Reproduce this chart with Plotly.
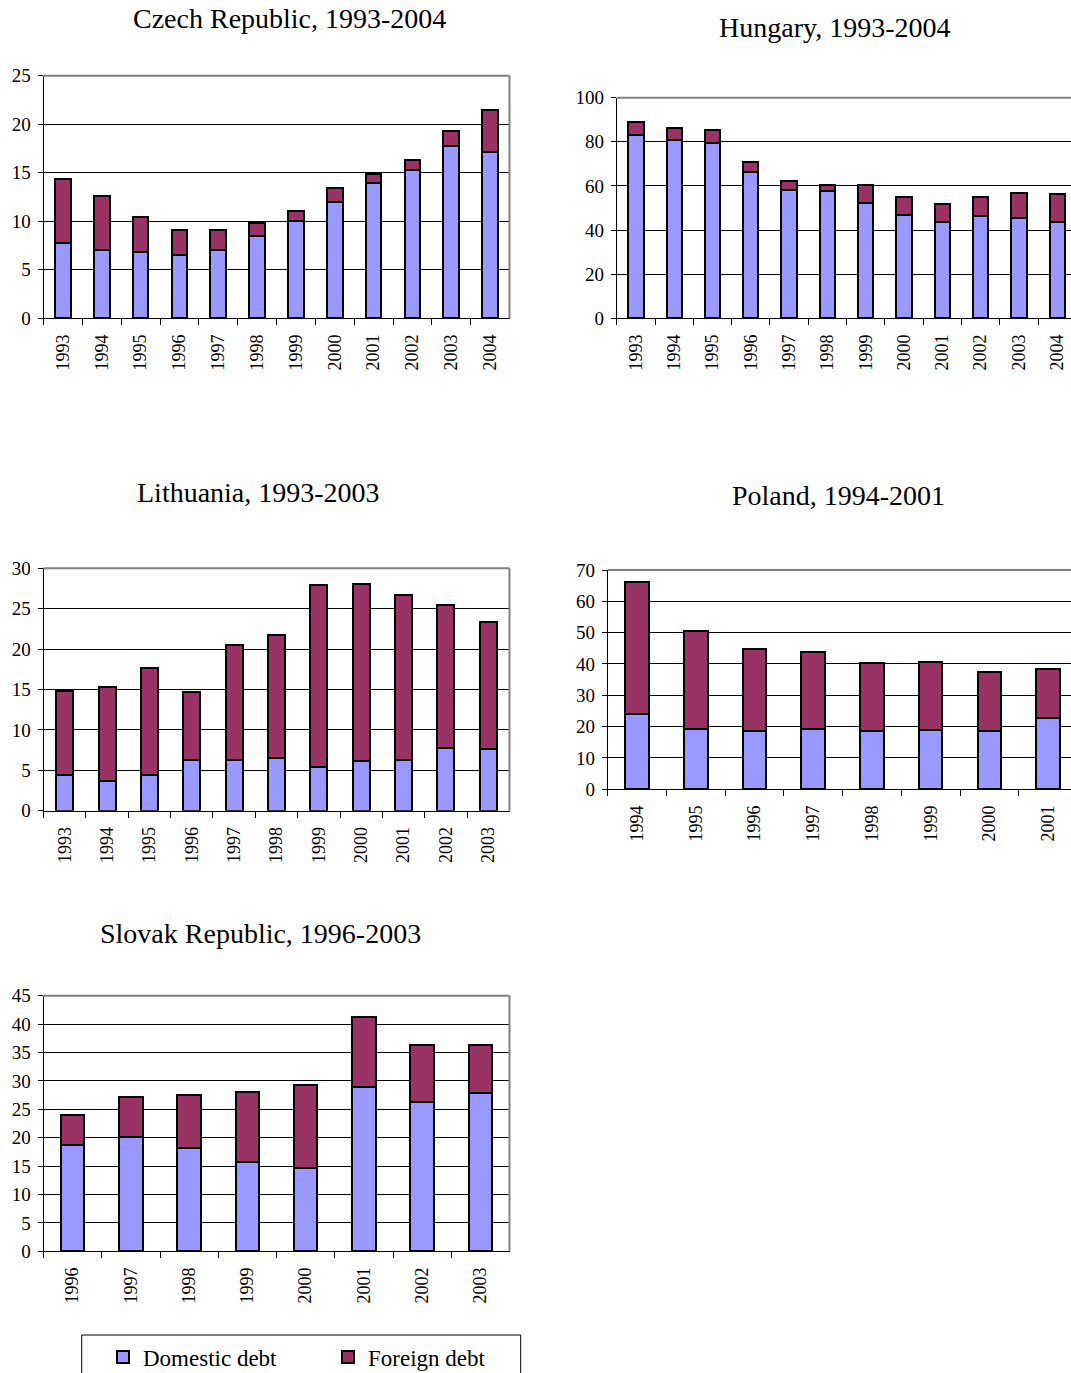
import plotly.graph_objects as go

# Government debt, % of GDP: domestic vs foreign component
czech_years = [str(y) for y in range(1993, 2005)]
czech_domestic = [7.8, 7.0, 6.8, 6.5, 7.0, 8.5, 10.0, 12.0, 13.9, 15.3, 17.8, 17.1]
czech_foreign = [6.6, 5.6, 3.6, 2.6, 2.1, 1.3, 1.1, 1.4, 1.0, 1.0, 1.5, 4.4]

hungary_years = [str(y) for y in range(1993, 2005)]
hungary_domestic = [83.1, 80.7, 79.3, 66.3, 58.3, 57.6, 52.1, 46.7, 43.8, 46.5, 45.6, 43.7]
hungary_foreign = [5.7, 5.6, 5.9, 4.4, 4.1, 2.8, 8.3, 8.4, 8.2, 8.5, 11.3, 12.6]

lithuania_years = [str(y) for y in range(1993, 2004)]
lithuania_domestic = [4.4, 3.7, 4.4, 6.3, 6.3, 6.5, 5.4, 6.2, 6.3, 7.7, 7.6]
lithuania_foreign = [10.4, 11.6, 13.2, 8.4, 14.2, 15.2, 22.5, 21.8, 20.4, 17.8, 15.8]

poland_years = [str(y) for y in range(1994, 2002)]
poland_domestic = [24.1, 19.3, 18.5, 19.4, 18.5, 18.9, 18.5, 22.8]
poland_foreign = [42.0, 31.3, 26.2, 24.5, 21.8, 21.8, 18.9, 15.5]

slovak_years = [str(y) for y in range(1996, 2004)]
slovak_domestic = [18.8, 20.1, 18.1, 15.7, 14.7, 28.9, 26.3, 27.9]
slovak_foreign = [5.2, 7.0, 9.4, 12.4, 14.6, 12.4, 10.0, 8.5]

W, H = 1071, 1373
FONT = "Liberation Serif"
DOM_COLOR = "#9999FF"
FOR_COLOR = "#993366"
GRID = "#000000"
FRAME = "#808080"

fig = go.Figure()


def px_x(x):
    return x / W


def px_y(y):
    return 1 - y / H


panels = [
    # title, years, domestic, foreign, (left, right, top, bottom px), ymax, dtick, xmax, framed, title pos
    ("Czech Republic, 1993-2004", czech_years, czech_domestic, czech_foreign,
     (43.5, 509.5, 75.7, 318.3), 25, 5, None, True, (289, 18)),
    ("Hungary, 1993-2004", hungary_years, hungary_domestic, hungary_foreign,
     (616.7, W, 97.7, 318.3), 100, 20, 11.36, False, (834, 28)),
    ("Lithuania, 1993-2003", lithuania_years, lithuania_domestic, lithuania_foreign,
     (43.5, 509.5, 568.3, 810.7), 30, 5, None, True, (258, 492)),
    ("Poland, 1994-2001", poland_years, poland_domestic, poland_foreign,
     (607.7, W, 570.0, 789.3), 70, 10, 7.39, False, (838, 496)),
    ("Slovak Republic, 1996-2003", slovak_years, slovak_domestic, slovak_foreign,
     (43.5, 509.5, 995.7, 1251.3), 45, 5, None, True, (260, 933)),
]

shapes = []
annotations = []
for i, (title, years, dom, forn, box, ymax, dtick, xmax, framed, tpos) in enumerate(panels):
    n = i + 1
    xa = "x" if n == 1 else f"x{n}"
    ya = "y" if n == 1 else f"y{n}"
    xkey = "xaxis" if n == 1 else f"xaxis{n}"
    ykey = "yaxis" if n == 1 else f"yaxis{n}"
    left, right, top, bottom = box

    fig.add_trace(go.Bar(
        x=years, y=dom, name="Domestic debt", xaxis=xa, yaxis=ya,
        marker=dict(color=DOM_COLOR, line=dict(color="#000000", width=2)),
        width=0.4, showlegend=(n == 1), legendgroup="dom",
    ))
    fig.add_trace(go.Bar(
        x=years, y=forn, name="Foreign debt", xaxis=xa, yaxis=ya,
        marker=dict(color=FOR_COLOR, line=dict(color="#000000", width=2)),
        width=0.4, showlegend=(n == 1), legendgroup="for",
    ))

    xr = [-0.5, (len(years) - 0.5) if xmax is None else xmax]
    fig.update_layout({
        xkey: dict(
            domain=[px_x(left), px_x(right)], anchor=ya, type="category",
            range=xr, showline=True, linecolor="#000000", linewidth=1,
            ticks="outside", tickson="boundaries", ticklen=6, tickcolor="#000000",
            tickangle=-90, showgrid=False, automargin=False, ticklabelstandoff=8,
            tickfont=dict(family=FONT, size=18, color="#000000"),
        ),
        ykey: dict(
            domain=[px_y(bottom), px_y(top)], anchor=xa, range=[0, ymax],
            dtick=dtick, tick0=0, showline=True, linecolor="#000000", linewidth=1,
            ticks="outside", ticklen=5, tickcolor="#000000", automargin=False,
            ticklabelstandoff=3,
            showgrid=True, gridcolor=GRID, gridwidth=1, zeroline=False,
            tickfont=dict(family=FONT, size=19, color="#000000"),
        ),
    })

    # grey frame on top (and right when the panel fits on the page)
    shapes.append(dict(type="line", xref=f"{xa} domain", yref=f"{ya} domain",
                       x0=0, x1=1, y0=1, y1=1,
                       line=dict(color=FRAME, width=2)))
    if framed:
        shapes.append(dict(type="line", xref=f"{xa} domain", yref=f"{ya} domain",
                           x0=1, x1=1, y0=0, y1=1,
                           line=dict(color=FRAME, width=2)))

    annotations.append(dict(
        text=title, x=px_x(tpos[0]), y=px_y(tpos[1]), xref="paper", yref="paper",
        xanchor="center", yanchor="middle", showarrow=False,
        font=dict(family=FONT, size=28, color="#000000"),
    ))

# legend frame
shapes.append(dict(type="rect", xref="paper", yref="paper",
                   x0=px_x(81.7), x1=px_x(520.7), y0=px_y(1380), y1=px_y(1335),
                   line=dict(color="#000000", width=1), fillcolor="rgba(0,0,0,0)"))

fig.update_layout(
    width=W, height=H,
    margin=dict(l=0, r=0, t=0, b=0, autoexpand=False),
    paper_bgcolor="white", plot_bgcolor="white",
    barmode="stack",
    shapes=shapes,
    annotations=annotations,
    legend=dict(
        orientation="h", xref="container", yref="container",
        x=px_x(103), y=px_y(1357), xanchor="left", yanchor="middle",
        font=dict(family=FONT, size=23, color="#000000"),
        entrywidth=180, entrywidthmode="pixels", itemwidth=30,
        bgcolor="rgba(0,0,0,0)", traceorder="normal",
    ),
    font=dict(family=FONT, color="#000000"),
)

fig.write_html("out.html")
